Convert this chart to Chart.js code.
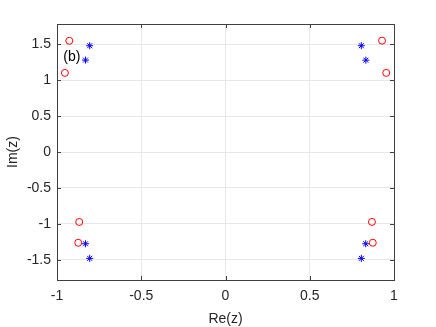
<!DOCTYPE html>
<html>
<head>
<meta charset="utf-8">
<script src="https://cdn.jsdelivr.net/npm/chart.js@4/dist/chart.umd.min.js"></script>
<style>
  html, body { margin: 0; padding: 0; background: #fff; }
  #wrap { width: 436px; height: 327px; }
</style>
</head>
<body>
<div id="wrap"><canvas id="zplane" width="436" height="327"></canvas></div>
<script>
// Zeros / poles
const circleRe = [-0.927, -0.953, 0.929, 0.954, -0.868, -0.874, 0.869, 0.874];
const circleIm = [1.546, 1.100, 1.548, 1.100, -0.973, -1.262, -0.972, -1.262];
const starRe = [-0.806, -0.831, 0.806, 0.833, -0.831, -0.806, 0.832, 0.806];
const starIm = [1.478, 1.278, 1.478, 1.277, -1.276, -1.479, -1.276, -1.479];

const xTicks = [-1, -0.5, 0, 0.5, 1];
const yTicks = [-1.5, -1, -0.5, 0, 0.5, 1, 1.5];
const xRange = [-1, 1];
const yRange = [-1.78, 1.78];

const FONT = '"Liberation Sans", Arial, Helvetica, sans-serif';
const AXIS_COLOR = '#262626';

function toPoints(xs, ys) {
    return xs.map(function(x, i) { return { x: x, y: ys[i] }; });
}

// Box, inward tick marks, axis titles and panel label
const matlabAxes = {
    id: 'matlabAxes',
    afterDraw: function(chart) {
        const ctx = chart.ctx;
        const a = chart.chartArea;
        const xs = chart.scales.x;
        const ys = chart.scales.y;
        const tl = 4;

        ctx.save();
        ctx.strokeStyle = '#404040';
        ctx.lineWidth = 1;
        ctx.strokeRect(a.left + 0.5, a.top + 0.5, a.right - a.left, a.bottom - a.top);

        ctx.beginPath();
        xTicks.forEach(function(v) {
            const px = Math.round(xs.getPixelForValue(v)) + 0.5;
            ctx.moveTo(px, a.bottom); ctx.lineTo(px, a.bottom - tl);
            ctx.moveTo(px, a.top); ctx.lineTo(px, a.top + tl);
        });
        yTicks.forEach(function(v) {
            const py = Math.round(ys.getPixelForValue(v)) + 0.5;
            ctx.moveTo(a.left, py); ctx.lineTo(a.left + tl, py);
            ctx.moveTo(a.right, py); ctx.lineTo(a.right - tl, py);
        });
        ctx.stroke();

        ctx.fillStyle = AXIS_COLOR;
        ctx.font = '14px ' + FONT;
        ctx.textAlign = 'center';
        ctx.textBaseline = 'middle';
        ctx.fillText('Re(z)', (a.left + a.right) / 2, 319);

        ctx.save();
        ctx.translate(13, (a.top + a.bottom) / 2);
        ctx.rotate(-Math.PI / 2);
        ctx.fillText('Im(z)', 0, 0);
        ctx.restore();

        ctx.fillStyle = '#000';
        ctx.textAlign = 'left';
        ctx.fillText('(b)', xs.getPixelForValue(-0.963), ys.getPixelForValue(1.32));
        ctx.restore();
    }
};

new Chart(document.getElementById('zplane'), {
    type: 'scatter',
    data: {
        datasets: [
            {
                label: 'zeros',
                data: toPoints(circleRe, circleIm),
                pointStyle: 'circle',
                pointRadius: 3.5,
                borderColor: '#ff0000',
                backgroundColor: 'rgba(0,0,0,0)',
                borderWidth: 1
            },
            {
                label: 'poles',
                data: toPoints(starRe, starIm),
                pointStyle: 'star',
                pointRadius: 3.5,
                borderColor: '#0000ff',
                backgroundColor: '#0000ff',
                borderWidth: 1
            }
        ]
    },
    options: {
        responsive: false,
        animation: false,
        layout: { padding: { top: 24, right: 42, left: 0, bottom: 0 } },
        plugins: {
            legend: { display: false },
            tooltip: { enabled: false }
        },
        scales: {
            x: {
                type: 'linear',
                min: xRange[0],
                max: xRange[1],
                afterBuildTicks: function(scale) {
                    scale.ticks = xTicks.map(function(v) { return { value: v }; });
                },
                afterFit: function(scale) { scale.height = 47; },
                grid: { color: '#e8e8e8', drawTicks: false },
                border: { display: false },
                ticks: {
                    padding: 8,
                    color: AXIS_COLOR,
                    font: { family: FONT, size: 14 },
                    callback: function(v) { return String(v); }
                }
            },
            y: {
                type: 'linear',
                min: yRange[0],
                max: yRange[1],
                afterBuildTicks: function(scale) {
                    scale.ticks = yTicks.map(function(v) { return { value: v }; });
                },
                afterFit: function(scale) { scale.width = 57; },
                grid: { color: '#e8e8e8', drawTicks: false },
                border: { display: false },
                ticks: {
                    padding: 6,
                    color: AXIS_COLOR,
                    font: { family: FONT, size: 14 },
                    callback: function(v) { return String(v); }
                }
            }
        }
    },
    plugins: [matlabAxes]
});
</script>
</body>
</html>
